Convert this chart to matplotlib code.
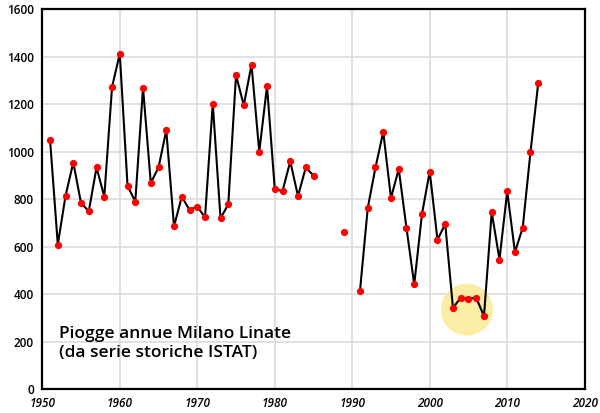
import numpy as np
import matplotlib.pyplot as plt

# annual rainfall Milano Linate (mm)
years_a = [1951, 1952, 1953, 1954, 1955, 1956, 1957, 1958, 1959, 1960,
           1961, 1962, 1963, 1964, 1965, 1966, 1967, 1968, 1969, 1970,
           1971, 1972, 1973, 1974, 1975, 1976, 1977, 1978, 1979, 1980,
           1981, 1982, 1983, 1984, 1985]
rain_a = [1051, 609, 815, 955, 784, 750, 934, 811, 1273, 1414,
          857, 790, 1270, 869, 934, 1091, 686, 811, 755, 769,
          724, 1203, 720, 778, 1323, 1196, 1368, 1000, 1277, 844,
          834, 960, 813, 934, 900]

years_single = [1989]
rain_single = [661]

years_b = [1991, 1992, 1993, 1994, 1995, 1996, 1997, 1998, 1999, 2000,
           2001, 2002, 2003, 2004, 2005, 2006, 2007, 2008, 2009, 2010,
           2011, 2012, 2013, 2014]
rain_b = [414, 763, 934, 1084, 805, 928, 679, 441, 738, 917,
          629, 696, 342, 385, 381, 385, 307, 746, 546, 833,
          577, 680, 998, 1289]

highlight_x = [2004.8]
highlight_y = [335]

x_ticks = [1950, 1960, 1970, 1980, 1990, 2000, 2010, 2020]
y_ticks = [0, 200, 400, 600, 800, 1000, 1200, 1400, 1600]

plt.rcParams['font.family'] = ['Open Sans', 'DejaVu Sans']

fig = plt.figure(figsize=(6, 4.13), dpi=100)
ax = fig.add_axes([0.0705, 0.058, 0.904, 0.919])

ax.scatter(highlight_x, highlight_y, s=1400, color='#FCEA95', alpha=0.85,
           edgecolors='none', zorder=1)

ax.plot(years_a, rain_a, color='black', lw=1.5, zorder=2)
ax.plot(years_b, rain_b, color='black', lw=1.5, zorder=2)
for xs, ys in [(years_a, rain_a), (years_single, rain_single), (years_b, rain_b)]:
    ax.plot(xs, ys, 'o', color='red', ms=4.2, zorder=3)

ax.set_xlim(1950, 2020)
ax.set_ylim(0, 1600)
ax.set_xticks(x_ticks)
ax.set_yticks(y_ticks)
ax.grid(True, color='#dcdcdc', lw=1.2)
ax.set_axisbelow(True)
ax.tick_params(length=0, pad=6)
for lbl in ax.get_xticklabels():
    lbl.set_fontstyle('italic')
    lbl.set_fontweight('semibold')
    lbl.set_fontsize(8.5)
for lbl in ax.get_yticklabels():
    lbl.set_fontweight('semibold')
    lbl.set_fontsize(8.5)
for sp in ax.spines.values():
    sp.set_linewidth(1.6)
    sp.set_color('black')

ax.text(0.03, 0.075, "Piogge annue Milano Linate\n(da serie storiche ISTAT)",
        transform=ax.transAxes, fontsize=12.5, fontweight='semibold',
        linespacing=1.2, va='bottom', ha='left')

fig.savefig('out.png', dpi=100)
